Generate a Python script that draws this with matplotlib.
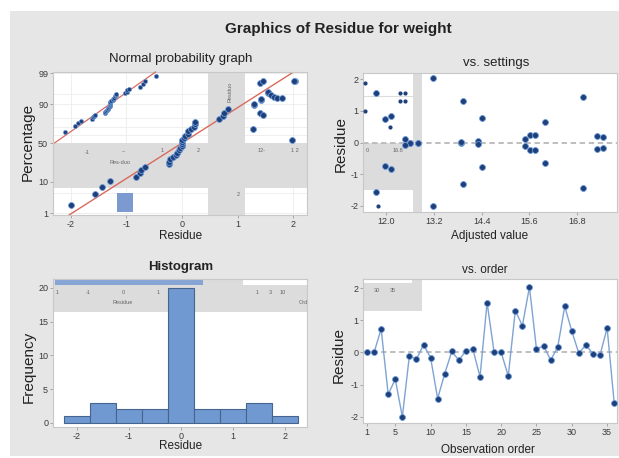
import matplotlib
matplotlib.use('Agg')
import numpy as np
import matplotlib.pyplot as plt
from matplotlib.patches import Rectangle
from statistics import NormalDist

plt.rcParams['font.family'] = ['Liberation Sans', 'DejaVu Sans']
plt.rcParams['axes.unicode_minus'] = False

# residuals in observation order
residuals = [0.0, 0.0, 0.73, -1.30, -0.83, -2.0, -0.10, -0.21, 0.24, -0.16,
             -1.43, -0.66, 0.03, -0.24, 0.05, 0.10, -0.76, 1.55, 0.0, 0.0,
             -0.73, 1.30, 0.83, 2.03, 0.10, 0.21, -0.24, 0.16, 1.43, 0.66,
             -0.03, 0.24, -0.05, -0.08, 0.76, -1.56]
# adjusted (fitted) values, same order
fitted = [13.88, 12.60, 11.97, 13.94, 12.12, 13.19, 15.49, 17.29, 15.62, 17.46,
          16.94, 15.99, 13.88, 15.62, 14.30, 15.49, 14.40, 11.75, 12.81, 12.60,
          11.97, 13.94, 12.12, 13.19, 12.48, 17.29, 15.74, 17.46, 16.94, 15.99,
          12.81, 15.74, 14.30, 12.48, 14.40, 11.75]
order = list(range(1, len(residuals) + 1))

pct_ticks = [1, 10, 50, 90, 99]
pct_grid = [1, 5, 10, 20, 30, 40, 50, 60, 70, 80, 90, 95, 99]
hist_edges = [-2.25, -1.75, -1.25, -0.75, -0.25, 0.25, 0.75, 1.25, 1.75, 2.25]
fit_ticks = [12.0, 13.2, 14.4, 15.6, 16.8]
order_ticks = [1, 5, 10, 15, 20, 25, 30, 35]

# stray points from the pasted fragments (data units of the host panel)
frag_res_x = [1.40, 1.46, 2.02, 1.55, 1.60, 1.66, 1.71, 1.80, 1.30, 1.42, 1.40, 1.46, 1.28, 1.98]
frag_res_z = [1.99, 2.06, 2.06, 1.69, 1.59, 1.53, 1.50, 1.50, 1.30, 1.46, 1.00, 0.93, 0.47, 0.10]
frag_fit_x = [11.47, 11.47, 12.35, 12.48, 12.35, 12.48, 12.10, 11.80]
frag_fit_y = [1.86, 1.00, 1.55, 1.55, 1.30, 1.30, 0.50, -2.0]

W, H = 619, 458
fig = plt.figure(figsize=(W / 100, H / 100), dpi=100)
fig.patch.set_facecolor('white')
fig.patches.append(Rectangle((10 / W, 2 / H), (W - 10) / W, (H - 13) / H,
                             transform=fig.transFigure, facecolor='#e6e6e6',
                             edgecolor='none', zorder=-10))


def px(l, t, r, b):
    return [l / W, 1 - b / H, (r - l) / W, (b - t) / H]


def patch(ax, l, t, r, b, color='#dcdcdc', z=0.6):
    ax.add_patch(Rectangle((l / W, 1 - b / H), (r - l) / W, (b - t) / H,
                           transform=fig.transFigure, facecolor=color,
                           edgecolor='none', zorder=z))


def txt(x, y, s, size=4, color='#666666', **kw):
    fig.text(x / W, 1 - y / H, s, fontsize=size, color=color,
             ha='center', va='center', **kw)


def style(ax):
    ax.set_facecolor('white')
    for s in ax.spines.values():
        s.set_color('#c8c8c8')
        s.set_linewidth(0.8)
    ax.tick_params(labelsize=6.5, color='#9a9a9a', labelcolor='#3a3a3a',
                   length=2, width=0.6, pad=1.5)


dot = dict(s=18, c='#1d3f7a', edgecolors='#6f9ad6', linewidths=0.6, zorder=3)
nd = NormalDist()
res = np.array(residuals)
n = len(res)
zq = np.array([nd.inv_cdf((i - 0.3) / (n + 0.4)) for i in range(1, n + 1)])
mu, sd = res.mean(), res.std(ddof=1)

# ---- Normal probability graph
ax1 = fig.add_axes(px(53, 72, 307, 215))
style(ax1)
ax1.set_xlim(-2.32, 2.25)
ax1.set_ylim(-2.39, 2.36)
for q in pct_grid:
    ax1.axhline(nd.inv_cdf(q / 100), color='#ececec', lw=0.6, zorder=0.4)
for xv in [-2, -1, 0, 1, 2]:
    ax1.axvline(xv, color='#ececec', lw=0.6, zorder=0.4)
patch(ax1, 208, 72, 245, 215)
patch(ax1, 53, 143, 307, 188)
patch(ax1, 117, 193, 133, 212, color='#7b9bd0', z=0.7)
ax1.scatter(np.sort(res), zq, **dot)
zz = np.array([-3.0, 3.0])
ax1.plot(mu + sd * zz, zz, color='#d96a5c', lw=1, zorder=2)
ax1.scatter(frag_res_x, frag_res_z, **dot)
ax1.set_xticks([-2, -1, 0, 1, 2])
ax1.set_yticks([nd.inv_cdf(q / 100) for q in pct_ticks])
ax1.set_yticklabels([str(q) for q in pct_ticks])

ax1b = fig.add_axes(px(58, 72, 161, 136))
ax1b.set_xlim(-2.32, 2.25)
ax1b.set_ylim(-2.39, 2.36)
ax1b.axis('off')
ax1b.scatter(np.sort(res), zq, s=9, c='#1d3f7a', edgecolors='#6f9ad6',
             linewidths=0.5, zorder=3)
zc = np.array([-2.9, 2.36])
ax1b.plot(mu + sd * zc, zc, color='#d96a5c', lw=0.9, clip_on=False)

for x, y, s in [(87, 152, '-1'), (123, 152, '\u2013'), (162, 150, '1'),
                (120, 163, 'Res-duo'), (198, 150, '2'), (262, 150, '12-'),
                (295, 150, '1 2'), (238, 195, '2')]:
    txt(x, y, s)
txt(230, 92, 'Residuo', rotation=90)

# ---- vs. settings
ax2 = fig.add_axes(px(363, 73, 617, 212))
style(ax2)
ax2.set_xlim(11.42, 17.8)
ax2.set_ylim(-2.19, 2.19)
patch(ax2, 413, 73, 422, 212)
patch(ax2, 363, 143, 413, 190)
ax2.plot([11.42, 12.7], [1.45, 1.45], color='#dddddd', lw=0.8, zorder=0.7)
ax2.axhline(0, color='#b9b9b9', ls=(0, (3, 2)), lw=1.3, zorder=1)
ax2.scatter(fitted, residuals, **dot)
ax2.scatter(frag_fit_x, frag_fit_y, s=4, c='#1d3f7a', zorder=3)
ax2.set_xticks(fit_ticks)
ax2.set_xticklabels([f'{v:.1f}' for v in fit_ticks])
ax2.set_yticks([-2, -1, 0, 1, 2])
txt(367, 150, '0')
txt(398, 150, '16.8')

# ---- Histogram
ax3 = fig.add_axes(px(53, 279, 307, 427))
style(ax3)
ax3.set_xlim(-2.46, 2.42)
ax3.set_ylim(-0.6, 21.3)
patch(ax3, 53, 279, 307, 312)
patch(ax3, 55, 280, 203, 285, color='#86a4d4', z=0.7)
patch(ax3, 243, 280, 307, 285, color='white', z=0.7)
ax3.hist(residuals, bins=hist_edges, color='#7199d1', edgecolor='#45648f',
         linewidth=0.8, zorder=2)
ax3.set_xticks([-2, -1, 0, 1, 2])
ax3.set_yticks([0, 5, 10, 15, 20])
for x, s in [(57, '1'), (88, '-1'), (123, '0'), (158, '1'),
             (257, '1'), (270, '3'), (283, '10')]:
    txt(x, 292, s)
txt(123, 302, 'Residue')
txt(303, 302, 'Ord')

# ---- vs. order
ax4 = fig.add_axes(px(363, 279, 617, 423))
style(ax4)
ax4.set_xlim(0.43, 36.4)
ax4.set_ylim(-2.19, 2.28)
patch(ax4, 363, 279, 422, 311)
patch(ax4, 363, 279, 412, 283, color='white', z=0.7)
ax4.axhline(0, color='#b9b9b9', ls=(0, (3, 2)), lw=1.3, zorder=1)
ax4.plot(order, residuals, color='#7fa3d3', lw=1, zorder=2)
ax4.scatter(order, residuals, **dot)
ax4.set_xticks(order_ticks)
ax4.set_yticks([-2, -1, 0, 1, 2])
txt(377, 290, '30')
txt(393, 290, '35')

# ---- titles and labels
c = '#222222'
txt(338, 29, 'Graphics of Residue for weight', size=11, color=c, weight='bold')
txt(181, 59, 'Normal probability graph', size=9.5, color=c)
txt(496, 63, 'vs. settings', size=9.5, color=c)
txt(181, 267, 'Histogram', size=9.5, color=c, weight='bold')
txt(485, 270, 'vs. order', size=8.5, color=c)
txt(181, 236, 'Residue', size=8.5, color=c)
txt(490, 236, 'Adjusted value', size=8.5, color=c)
txt(181, 446, 'Residue', size=8.5, color=c)
txt(488, 450, 'Observation order', size=8.5, color=c)
txt(28, 142, 'Percentage', size=11, color=c, rotation=90)
txt(341, 144, 'Residue', size=11, color=c, rotation=90)
txt(29, 367, 'Frequency', size=11, color=c, rotation=90)
txt(339, 355, 'Residue', size=11, color=c, rotation=90)

fig.savefig('out.png', dpi=100)
